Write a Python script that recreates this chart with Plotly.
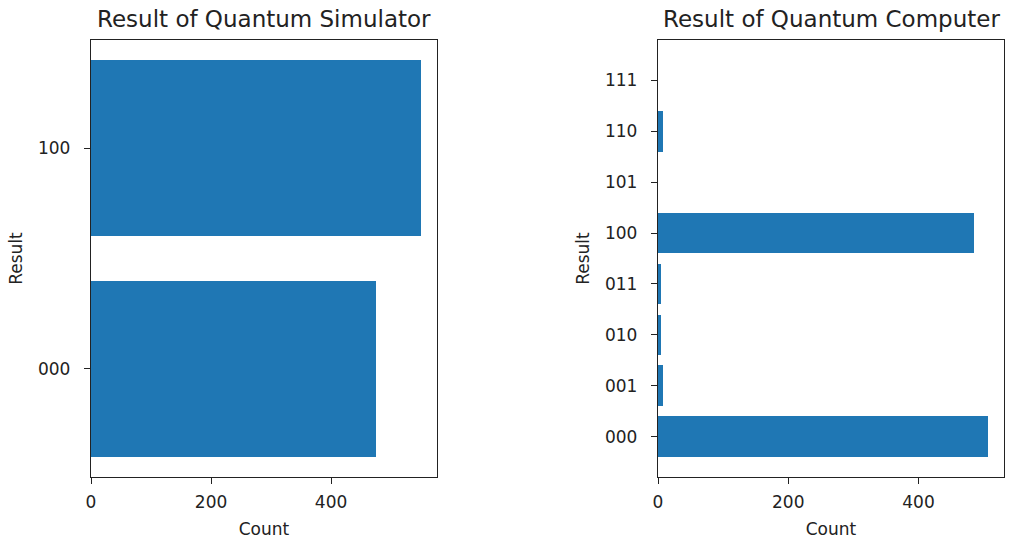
import plotly.graph_objects as go

sim_states = ["000", "100"]
sim_counts = [475, 549]

qc_states = ["000", "001", "010", "011", "100", "101", "110", "111"]
qc_counts = [506, 8, 4, 4, 485, 0, 8, 0]

BAR = "#1f77b4"
FONT = "DejaVu Sans, Arial, sans-serif"

fig = go.Figure()
fig.add_trace(go.Bar(x=sim_counts, y=sim_states, orientation="h", width=0.8,
                     marker=dict(color=BAR, line=dict(width=0)),
                     xaxis="x", yaxis="y", showlegend=False))
fig.add_trace(go.Bar(x=qc_counts, y=qc_states, orientation="h", width=0.8,
                     marker=dict(color=BAR, line=dict(width=0)),
                     xaxis="x2", yaxis="y2", showlegend=False))

W, H = 1010, 539
top, bot = 40, 477
yd = [1 - bot / H, 1 - top / H]

axis_common = dict(showline=True, mirror=True, linecolor="#222", linewidth=1.4,
                   ticks="outside", ticklen=6, tickwidth=1.4, tickcolor="#222",
                   showgrid=False, zeroline=False, automargin=False,
                   tickfont=dict(family=FONT, size=17, color="#222"),
                   title_font=dict(family=FONT, size=17, color="#222"))

fig.update_layout(
    width=W, height=H,
    margin=dict(l=0, r=0, t=0, b=0, autoexpand=False),
    paper_bgcolor="white", plot_bgcolor="white",
    font=dict(family=FONT, color="#222"),
    bargap=0,
    xaxis=dict(domain=[91 / W, 437 / W], range=[0, max(sim_counts) * 1.05],
               tickvals=[0, 200, 400], anchor="y", ticklabelstandoff=3,
               title=dict(text="Count", standoff=12), **axis_common),
    yaxis=dict(domain=yd, type="category", categoryorder="array",
               categoryarray=sim_states, range=[-0.49, 1.49], anchor="x",
               ticklabelstandoff=10,
               title=dict(text="Result", standoff=10), **axis_common),
    xaxis2=dict(domain=[658 / W, 1004 / W], range=[0, max(qc_counts) * 1.05],
                tickvals=[0, 200, 400], anchor="y2", ticklabelstandoff=3,
                title=dict(text="Count", standoff=12), **axis_common),
    yaxis2=dict(domain=yd, type="category", categoryorder="array",
                categoryarray=qc_states, range=[-0.79, 7.79], anchor="x2",
                ticklabelstandoff=10,
                title=dict(text="Result", standoff=10), **axis_common),
    annotations=[
        dict(text="Result of Quantum Simulator", x=(91 + 437) / 2 / W, y=1 - 34 / H,
             xref="paper", yref="paper", xanchor="center", yanchor="bottom",
             showarrow=False, font=dict(family=FONT, size=23, color="#222")),
        dict(text="Result of Quantum Computer", x=(658 + 1004) / 2 / W, y=1 - 34 / H,
             xref="paper", yref="paper", xanchor="center", yanchor="bottom",
             showarrow=False, font=dict(family=FONT, size=23, color="#222")),
    ],
)

fig.write_html("out.html")
